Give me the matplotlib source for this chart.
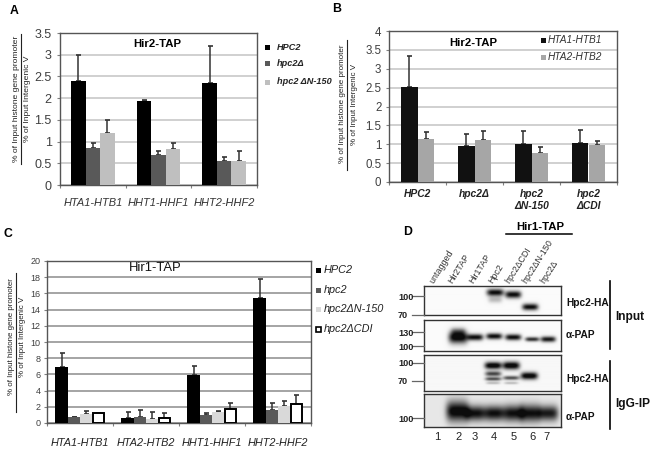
import numpy as np
import matplotlib
matplotlib.use('Agg')
import matplotlib.pyplot as plt
from matplotlib.patches import Rectangle

plt.rcParams['font.family'] = ['Liberation Sans', 'DejaVu Sans']

W, H = 652, 449

# panel A
genes_a = ['HTA1-HTB1', 'HHT1-HHF1', 'HHT2-HHF2']
a_names = ['HPC2', 'hpc2Δ', 'hpc2 ΔN-150']
a_hpc2 = [2.4, 1.93, 2.35]
a_hpc2_err = [0.6, 0.02, 0.85]
a_del = [0.85, 0.7, 0.55]
a_del_err = [0.12, 0.09, 0.09]
a_n150 = [1.2, 0.83, 0.55]
a_n150_err = [0.29, 0.13, 0.23]

# panel B
strains_b = ['HPC2', 'hpc2Δ', 'hpc2\nΔN-150', 'hpc2\nΔCDI']
b_names = ['HTA1-HTB1', 'HTA2-HTB2']
b_hta1 = [2.52, 0.96, 1.0, 1.04]
b_hta1_err = [0.81, 0.31, 0.35, 0.34]
b_hta2 = [1.13, 1.1, 0.77, 0.98]
b_hta2_err = [0.19, 0.24, 0.15, 0.11]

# panel C
genes_c = ['HTA1-HTB1', 'HTA2-HTB2', 'HHT1-HHF1', 'HHT2-HHF2']
c_names = ['HPC2', 'hpc2', 'hpc2ΔN-150', 'hpc2ΔCDI']
c_hpc2 = [6.95, 0.6, 5.9, 15.4]
c_hpc2_err = [1.75, 0.8, 1.1, 2.4]
c_del = [0.75, 0.7, 0.95, 1.55]
c_del_err = [0.0, 0.9, 0.3, 0.95]
c_n150 = [1.1, 0.55, 1.4, 2.1]
c_n150_err = [0.4, 0.75, 0.1, 0.6]
c_cdi = [1.2, 0.6, 1.75, 2.4]
c_cdi_err = [0.05, 0.6, 0.75, 1.1]

# panel D
lanes = ['untagged', 'Hir2TAP', 'Hir1TAP', 'Hpc2', 'hpc2ΔCDI', 'hpc2ΔN-150', 'hpc2Δ']
lane_x = [437, 456, 477, 496, 513, 530, 548]
lane_num_x = [437, 459, 475, 494, 514, 533, 546]
# (x, y, half width, half height, darkness)
blot1 = [(495, 293, 8.5, 3.5, 1.0), (495, 300, 7, 3, 0.25), (513, 295, 8, 3.5, 1.0), (530, 307, 8, 3.2, 1.0)]
blot2 = [(458, 337, 9.5, 6, 1.1), (458, 331, 7, 3.5, 0.35), (475, 337, 8, 3.2, 1.0), (494, 336, 8, 3, 1.0),
         (513, 337, 8, 3, 1.0), (532, 339, 7, 2.2, 0.85), (548, 339, 7.5, 2.8, 0.95)]
blot3 = [(493, 366, 8.5, 3.5, 1.1), (493, 374, 8, 2.4, 0.75), (493, 379, 8, 1.8, 0.7), (493, 383, 7, 1.3, 0.25),
         (511, 366, 8.5, 3.8, 1.1), (511, 378, 8, 2, 0.7), (511, 383, 7, 1.3, 0.25), (529, 376, 8.5, 3.5, 1.1)]
blot4 = [(457, 411, 11, 10, 1.0), (475, 413, 10, 7.5, 0.9), (494, 413, 10, 7.5, 0.9),
         (513, 413, 10, 8, 0.9), (530, 413, 10, 8.5, 0.9), (548, 413, 10, 7.5, 0.85)]
blot_boxes = [(424, 286, 561, 315), (424, 320, 561, 351), (424, 355, 561, 391), (424, 394, 561, 427)]
blot_bands = [blot1, blot2, blot3, blot4]
blot_back = [0.02, 0.02, 0.03, 0.1]
mw_labels = [('100', 297), ('70', 316), ('130', 333), ('100', 347), ('100', 364), ('70', 382), ('100', 419)]
side_labels = [('Hpc2-HA', 303), ('α-PAP', 335), ('Hpc2-HA', 379), ('α-PAP', 417)]

fig = plt.figure(figsize=(W / 100, H / 100), dpi=100)
over = fig.add_axes([0, 0, 1, 1], zorder=5)
over.set_xlim(0, W)
over.set_ylim(H, 0)
over.axis('off')
over.patch.set_alpha(0)


def axes_px(x0, y0, x1, y1):
    return fig.add_axes([x0 / W, 1 - y1 / H, (x1 - x0) / W, (y1 - y0) / H])


def bars(ax, labels, series, errs, colors, width, ymax, yticks, ylabels, grid, fs, ypad, xpad, tickfont):
    n = len(series)
    x = np.arange(len(labels))
    for i in range(n):
        pos = x + (i - (n - 1) / 2) * width
        ec = 'black' if colors[i] == 'white' else colors[i]
        lw = 1.4 if colors[i] == 'white' else 0
        ax.bar(pos, series[i], width if lw == 0 else width * 0.92, color=colors[i], edgecolor=ec, linewidth=lw, zorder=3)
        ax.errorbar(pos, series[i], yerr=[np.zeros(len(labels)), errs[i]], fmt='none',
                    ecolor='#333333', elinewidth=1.1, capsize=1.8, capthick=1.2, zorder=2.5)
    ax.set_xlim(-0.5, len(labels) - 0.5)
    ax.set_ylim(0, ymax)
    ax.set_yticks(yticks)
    ax.set_yticklabels(ylabels, fontsize=fs, color='#404040')
    ax.set_xticks(np.arange(len(labels) + 1) - 0.5)
    ax.set_xticklabels([])
    ax.set_xticks(x, minor=True)
    ax.set_xticklabels(labels, minor=True, **tickfont)
    ax.tick_params(axis='x', which='minor', length=0, pad=xpad)
    ax.tick_params(axis='x', which='major', length=2, color='#808080')
    ax.tick_params(axis='y', length=2, color='#808080', pad=ypad)
    ax.grid(axis='y', color=grid, linewidth=1.1, zorder=0)
    ax.set_axisbelow(True)
    for s in ax.spines.values():
        s.set_color('#555555')
        s.set_linewidth(1.0)


def ylabel(x, mid, y0, y1, fs):
    over.text(x, mid, '% of Input histone gene promoter', rotation=90, ha='center', va='center', fontsize=fs, color='#222222')
    over.plot([x + 4, x + 4], [y0, y1], color='#222222', lw=0.8)
    over.text(x + 11, mid, '% of Input Intergenic V', rotation=90, ha='center', va='center', fontsize=fs, color='#222222')


def legend(names, colors, sq_x, text_x, ys, size, **font):
    for name, c, y in zip(names, colors, ys):
        ec = 'black' if c == 'white' else c
        over.add_patch(Rectangle((sq_x - size / 2, y - size / 2), size, size, facecolor=c, edgecolor=ec, linewidth=1.2 if c == 'white' else 0))
        over.text(text_x, y, name, va='center', ha='left', **font)


# A
ax_a = axes_px(60, 33, 257, 185)
bars(ax_a, genes_a, [a_hpc2, a_del, a_n150], [a_hpc2_err, a_del_err, a_n150_err],
     ['black', '#595959', '#bfbfbf'], 0.223, 3.5, np.arange(0, 3.6, 0.5),
     ['0', '0.5', '1', '1.5', '2', '2.5', '3', '3.5'], '#c4c4c4', 9, 4, 9,
     dict(fontsize=7.9, style='italic', color='#333333'))
over.text(157, 44, 'Hir2-TAP', ha='center', va='center', fontsize=8.2, fontweight='bold')
ylabel(17, 99, 34, 164, 6.1)
legend(a_names, ['black', '#595959', '#bfbfbf'], 267, 277, [47, 63, 82], 5,
       fontsize=6.6, fontweight='bold', style='italic', color='#222222')

# B
ax_b = axes_px(389, 31, 617, 182)
bars(ax_b, strains_b, [b_hta1, b_hta2], [b_hta1_err, b_hta2_err],
     ['#111111', '#a6a6a6'], 0.283, 4, np.arange(0, 4.1, 0.5),
     ['0', '0.5', '1', '1.5', '2', '2.5', '3', '3.5', '4'], '#c4c4c4', 8.3, 3.5, 5,
     dict(fontsize=7.4, style='italic', fontweight='bold', color='#222222'))
over.text(473, 43, 'Hir2-TAP', ha='center', va='center', fontsize=8.2, fontweight='bold')
ylabel(343, 104, 40, 170, 5.8)
legend(b_names, ['#111111', '#a6a6a6'], 543, 548, [40, 57], 5,
       fontsize=7.3, style='italic', color='#333333')

# C
ax_c = axes_px(47, 261, 311, 423)
c_colors = ['black', '#595959', '#d9d9d9', 'white']
bars(ax_c, genes_c, [c_hpc2, c_del, c_n150, c_cdi], [c_hpc2_err, c_del_err, c_n150_err, c_cdi_err],
     c_colors, 0.186, 20, np.arange(0, 21, 2), [str(v) for v in range(0, 21, 2)], '#8c8c8c', 6.5, 2.5, 11,
     dict(fontsize=7.8, style='italic', color='#222222'))
over.text(155, 268, 'Hir1-TAP', ha='center', va='center', fontsize=9.4, color='#111111')
ylabel(12, 337, 273, 412, 5.7)
legend(c_names, c_colors, 318, 324, [270, 290, 309, 329], 5,
       fontsize=7.8, style='italic', color='#222222')

# D: gel strips
for box, bands, back in zip(blot_boxes, blot_bands, blot_back):
    x0, y0, x1, y1 = box
    xx, yy = np.meshgrid(np.arange(x0, x1, 0.5), np.arange(y0, y1, 0.5))
    img = np.full(xx.shape, float(back))
    for bx, by, hw, hh, d in bands:
        img += d * np.exp(-((xx - bx) / hw) ** 4 - ((yy - by) / hh) ** 2)
    ax = axes_px(x0, y0, x1, y1)
    ax.imshow(np.clip(img, 0, 1), cmap='gray_r', vmin=0, vmax=1.05, aspect='auto', interpolation='bilinear')
    ax.set_xticks([])
    ax.set_yticks([])
    for s in ax.spines.values():
        s.set_color('#333333')
        s.set_linewidth(1.0)

for name, x in zip(lanes, lane_x):
    over.text(x - 2, 285, name, rotation=58, rotation_mode='anchor', ha='left', va='bottom', fontsize=6.4, color='#333333')
for i, x in enumerate(lane_num_x):
    over.text(x, 437, str(i + 1), ha='center', va='center', fontsize=8, color='#222222')
for txt, y in mw_labels:
    over.text(398, y, txt, ha='left', va='center', fontsize=6.6, fontweight='bold', color='#222222')
    over.plot([412, 424], [y - 1, y - 1], color='#666666', lw=0.9)
for txt, y in side_labels:
    over.text(566, y, txt, ha='left', va='center', fontsize=7.3, fontweight='bold', color='#111111')

over.text(540, 227, 'Hir1-TAP', ha='center', va='center', fontsize=8.2, fontweight='bold')
over.plot([506, 572], [234, 234], color='black', lw=1.1)
over.text(615, 317, 'Input', ha='left', va='center', fontsize=8.6, fontweight='bold', color='#111111')
over.plot([610, 610], [281, 349], color='black', lw=1.2)
over.text(615, 404, 'IgG-IP', ha='left', va='center', fontsize=8.6, fontweight='bold', color='#111111')
over.plot([610, 610], [361, 429], color='black', lw=1.2)

# panel letters
for letter, x, y in [('A', 14, 11), ('B', 337, 9), ('C', 8, 234), ('D', 408, 232)]:
    over.text(x, y, letter, ha='center', va='center', fontsize=8.8, fontweight='bold')

fig.savefig('out.png', dpi=100)
